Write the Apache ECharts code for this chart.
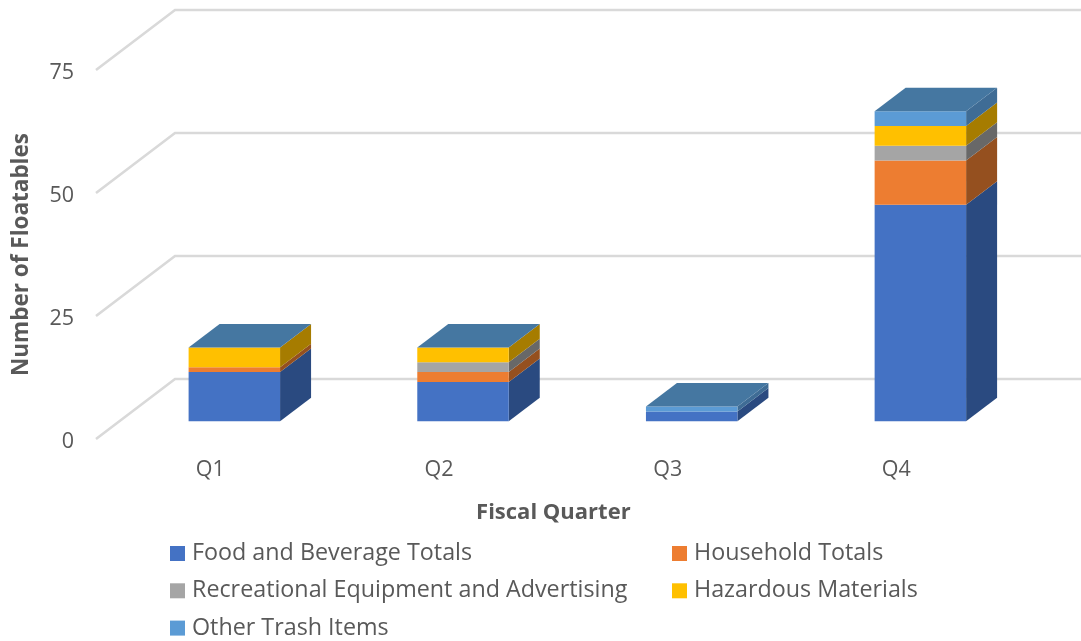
<!DOCTYPE html>
<html>
<head>
<meta charset="utf-8">
<style>html,body{margin:0;padding:0;background:#fff}#c{width:1081px;height:641px}</style>
<script src="https://cdn.jsdelivr.net/npm/echarts@6/dist/echarts.min.js"></script>
</head>
<body>
<div id="c"></div>
<script>
const quarters = ['Q1', 'Q2', 'Q3', 'Q4'];
const yTicks = [0, 25, 50, 75];
const foodBeverage = [10, 8, 2, 44];
const household = [1, 2, 0, 9];
const recreational = [0, 2, 0, 3];
const hazardous = [4, 3, 0, 4];
const otherTrash = [0, 0, 1, 3];

const seriesNames = ['Food and Beverage Totals', 'Household Totals', 'Recreational Equipment and Advertising', 'Hazardous Materials', 'Other Trash Items'];
const seriesValues = [foodBeverage, household, recreational, hazardous, otherTrash];
const frontColors = ['#4472C4', '#ED7D31', '#A5A5A5', '#FFC000', '#5B9BD5'];
const sideColors = ['#2A4A80', '#95501F', '#686868', '#A67C00', '#3F6C95'];
const topColor = '#4577A1';

const FONT = 'Open Sans';
const TEXT = '#595959';
// perspective of the box: wall depth and bar placement inside it
const WALL_DX = 79, WALL_DY = 60;
const BAR_SHIFT_X = 24, BAR_SHIFT_Y = 17.7, BAR_DX = 31, BAR_DY = 23.5, BAR_RATIO = 0.4;

function stackRows(si) {
  return quarters.map((q, i) => {
    let base = 0;
    for (let k = 0; k < si; k++) base += seriesValues[k][i];
    let isTop = seriesValues[si][i] > 0;
    for (let k = si + 1; k < seriesValues.length; k++) if (seriesValues[k][i] > 0) isTop = false;
    return [i, base + seriesValues[si][i], base, isTop ? 1 : 0];
  }).filter((r, i) => seriesValues[si][i] > 0);
}

function barRenderer(si) {
  return function (params, api) {
    const band = api.size([1, 0])[0];
    const w = band * BAR_RATIO;
    const cx = api.coord([api.value(0), 0])[0] + BAR_SHIFT_X;
    const yT = api.coord([api.value(0), api.value(1)])[1] - BAR_SHIFT_Y;
    const yB = api.coord([api.value(0), api.value(2)])[1] - BAR_SHIFT_Y;
    const x0 = cx - w / 2, x1 = cx + w / 2;
    const children = [
      { type: 'polygon', shape: { points: [[x1, yT], [x1 + BAR_DX, yT - BAR_DY], [x1 + BAR_DX, yB - BAR_DY], [x1, yB]] }, style: { fill: sideColors[si] } },
      { type: 'rect', shape: { x: x0, y: yT, width: w, height: yB - yT }, style: { fill: frontColors[si] } }
    ];
    if (api.value(3)) {
      children.push({ type: 'polygon', shape: { points: [[x0, yT], [x0 + BAR_DX, yT - BAR_DY], [x1 + BAR_DX, yT - BAR_DY], [x1, yT]] }, style: { fill: topColor } });
    }
    return { type: 'group', children };
  };
}

function wallRenderer(params, api) {
  const band = api.size([1, 0])[0];
  const y = api.coord([0, api.value(1)])[1];
  const left = api.coord([0, 0])[0] - band / 2;
  const right = api.coord([quarters.length - 1, 0])[0] + band / 2;
  return {
    type: 'polyline',
    shape: { points: [[left, y], [left + WALL_DX, y - WALL_DY], [right + WALL_DX, y - WALL_DY]] },
    style: { stroke: '#D9D9D9', lineWidth: 2.6, fill: 'none' }
  };
}

const series = [{
  type: 'custom', silent: true, z: 1, renderItem: wallRenderer,
  encode: { x: 0, y: 1 }, data: yTicks.map(t => [0, t])
}].concat(seriesNames.map((name, si) => ({
  type: 'custom', name, z: 2, silent: true,
  renderItem: barRenderer(si),
  itemStyle: { color: frontColors[si] },
  encode: { x: 0, y: 1 },
  data: stackRows(si)
})));

const legendBase = {
  orient: 'vertical', itemWidth: 15, itemHeight: 15, itemGap: 14.3, padding: 0, selectedMode: false, icon: 'rect',
  textStyle: { fontFamily: FONT, fontSize: 23.3, color: TEXT, padding: [0, 0, 0, 2] }
};

const chart = echarts.init(document.getElementById('c'), null, { renderer: 'canvas' });
chart.setOption({
  animation: false,
  backgroundColor: '#fff',
  grid: { left: 96, top: 70, width: 914.7, height: 369 },
  xAxis: {
    type: 'category', data: quarters,
    axisLine: { show: false }, axisTick: { show: false }, splitLine: { show: false },
    axisLabel: { margin: 20, fontFamily: FONT, fontSize: 21.5, color: TEXT },
    name: 'Fiscal Quarter', nameLocation: 'middle', nameGap: 63,
    nameTextStyle: { fontFamily: FONT, fontSize: 22, fontWeight: 'bold', color: TEXT }
  },
  yAxis: {
    type: 'value', min: 0, max: 75, interval: 25,
    axisLine: { show: false }, axisTick: { show: false }, splitLine: { show: false },
    axisLabel: {
      margin: 22, formatter: '{t|{value}}',
      rich: { t: { fontFamily: FONT, fontSize: 21.5, color: TEXT, padding: [6, 0, 0, 0] } }
    },
    name: 'Number of Floatables', nameLocation: 'middle', nameGap: 63,
    nameTextStyle: { fontFamily: FONT, fontSize: 22.5, fontWeight: 'bold', color: TEXT }
  },
  legend: [
    Object.assign({}, legendBase, { left: 170, top: 542, data: [seriesNames[0], seriesNames[2], seriesNames[4]] }),
    Object.assign({}, legendBase, { left: 672, top: 542, data: [seriesNames[1], seriesNames[3]] })
  ],
  series
});
</script>
</body>
</html>
